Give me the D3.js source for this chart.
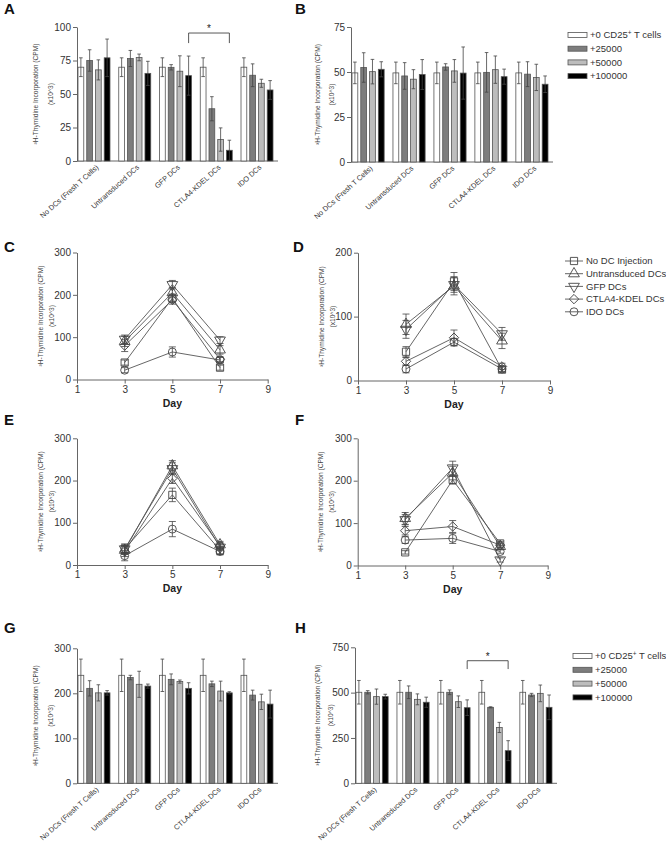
<!DOCTYPE html>
<html>
<head>
<meta charset="utf-8">
<script src="https://cdn.jsdelivr.net/npm/d3@7"></script>
<style>
  body { margin: 0; background: #fff; }
  text { font-family: "Liberation Sans", Arial, sans-serif; }
</style>
</head>
<body>
<div id="fig"></div>
<script>
// ---- data ----
var barCategories = ["No DCs (Fresh T Cells)", "Untransduced DCs", "GFP DCs", "CTLA4-KDEL DCs", "IDO DCs"];
var barSeries = ["+0 CD25⁺ T cells", "+25000", "+50000", "+100000"];
var barColors = ["#ffffff", "#7d7d7d", "#bdbdbd", "#000000"];

// mean / error per category, one value per series
var aMeans = [[70, 75, 68, 77], [70, 76.5, 77.3, 65.4], [70, 69.9, 67, 63.7], [70, 39, 16, 8], [70, 64, 58, 53]];
var aErrs  = [[7, 8, 7.5, 14], [7, 6, 2.5, 9], [7, 2, 11.5, 14.6], [7, 9, 8.7, 7.5], [7, 8.5, 3, 7]];
var bMeans = [[49.5, 52.5, 50.2, 51.5], [49.5, 47.8, 46, 48.6], [49.5, 52.8, 50.6, 49.4], [49.5, 49.8, 51.3, 47.4], [49.5, 48.8, 47, 43.2]];
var bErrs  = [[6, 8.2, 6.8, 4.2], [6, 7.4, 5.3, 8.3], [6, 1.8, 6.3, 14.5], [6, 11, 7.6, 4.2], [6, 6.9, 7.3, 4.6]];
var gMeans = [[240, 211, 201, 201], [240, 235, 220, 216], [240, 231, 226, 211], [240, 221, 205, 201], [240, 196, 181, 176]];
var gErrs  = [[36, 17, 18, 5], [36, 5, 29, 4.5], [36, 12, 3.5, 12.5], [36, 6, 22, 2.5], [36, 11, 17, 31]];
var hMeans = [[502, 502, 478, 478], [502, 502, 463, 447], [502, 502, 450, 417], [502, 419, 308, 180], [502, 487, 496, 419]];
var hErrs  = [[65, 9, 42, 13], [65, 35, 30, 28], [65, 13, 32, 43], [65, 3, 28, 55], [65, 9, 46, 68]];

var yTicksA = [0, 25, 50, 75, 100];
var yTicksB = [0, 25, 50, 75];
var yTicksG = [0, 100, 200, 300];
var yTicksH = [0, 250, 500, 750];

var days = [3, 5, 7];
var dayTicks = [1, 3, 5, 7, 9];
var lineSeries = ["No DC Injection", "Untransduced DCs", "GFP DCs", "CTLA4-KDEL DCs", "IDO DCs"];
var lineSymbols = ["square", "triangle", "triangleDown", "diamond", "circle"];

var cMeans = [[40, 192, 28], [90, 205, 70], [95, 224, 93], [80, 188, 48], [22, 65, 46]];
var cErrs  = [[6, 10, 6], [12, 12, 10], [10, 10, 8], [14, 10, 6], [6, 12, 6]];
var dMeans = [[45, 155, 17], [88, 148, 62], [80, 150, 73], [30, 67, 22], [18, 60, 18]];
var dErrs  = [[8, 14, 4], [16, 14, 12], [14, 12, 10], [6, 12, 5], [6, 6, 4]];
var eMeans = [[38, 166, 35], [35, 235, 48], [38, 228, 42], [32, 205, 45], [22, 85, 32]];
var eErrs  = [[12, 16, 10], [10, 12, 8], [10, 14, 8], [12, 12, 8], [12, 18, 8]];
var fMeans = [[31, 202, 52], [111, 218, 45], [108, 230, 13], [82, 92, 48], [60, 64, 33]];
var fErrs  = [[4, 10, 5], [14, 16, 6], [12, 16, 5], [10, 14, 5], [8, 12, 4]];

var yTicksLine300 = [0, 100, 200, 300];
var yTicksLine200 = [0, 100, 200];

var yLabel1 = "³H-Thymidine Incorporation (CPM)";
var yLabel2 = "(x10^3)";

// ---- style ----
var axisColor = "#666",
    textColor = "#333",
    barStroke = "#555",
    errColor = "#444",
    tickFont = 10,
    catFont = 7.3,
    labFont = 6.6;

var svg = d3.select("#fig")
    .append("svg")
    .attr("width", 666)
    .attr("height", 845);

function panelLetter(letter, x, y) {
    svg.append("text")
        .attr("x", x)
        .attr("y", y)
        .text(letter)
        .style("font-size", "15px")
        .style("font-weight", "bold")
        .style("fill", "#111");
}

function yAxisLabel(xAxis, off1, off2, yMid) {
    [[yLabel1, off1], [yLabel2, off2]].forEach(function (d) {
        svg.append("text")
            .attr("transform", "translate(" + (xAxis - d[1] + 2.5) + "," + yMid + ") rotate(-90)")
            .attr("text-anchor", "middle")
            .text(d[0])
            .style("font-size", labFont + "px")
            .style("fill", "#444");
    });
}

function drawYAxis(y, x, ticks) {
    var g = svg.append("g")
        .attr("transform", "translate(" + x + ",0)")
        .call(d3.axisLeft(y).tickValues(ticks).tickSize(4).tickPadding(2).tickSizeOuter(0));
    g.select(".domain").attr("stroke", axisColor);
    g.selectAll(".tick line").attr("stroke", axisColor);
    g.selectAll(".tick text")
        .style("font-size", tickFont + "px")
        .style("font-family", "'Liberation Sans', Arial, sans-serif")
        .style("fill", textColor);
    return g;
}

function drawBarPanel(cfg) {
    var y = d3.scaleLinear().domain([0, cfg.max]).range([cfg.y0, cfg.yTop]);
    var x0 = d3.scaleBand().domain(barCategories).range([cfg.x + 1, cfg.xEnd]).paddingInner(0.215).paddingOuter(0);
    var x1 = d3.scaleBand().domain(barSeries).range([0, x0.bandwidth()]).paddingInner(0.34);

    // x axis line
    svg.append("line")
        .attr("x1", cfg.x).attr("x2", cfg.xEnd + 5)
        .attr("y1", cfg.y0).attr("y2", cfg.y0)
        .style("stroke", axisColor);

    drawYAxis(y, cfg.x, cfg.ticks);

    var groups = svg.append("g").selectAll("g")
        .data(cfg.means)
        .enter().append("g")
        .attr("transform", function (d, i) { return "translate(" + x0(barCategories[i]) + ",0)"; });

    groups.each(function (row, i) {
        var g = d3.select(this);
        row.forEach(function (m, j) {
            var e = cfg.errs[i][j],
                bx = x1(barSeries[j]),
                bw = x1.bandwidth(),
                cx = bx + bw / 2;
            g.append("rect")
                .attr("x", bx)
                .attr("y", y(m))
                .attr("width", bw)
                .attr("height", y(0) - y(m))
                .style("fill", barColors[j])
                .style("stroke", barStroke)
                .style("stroke-width", "0.8px");
            // error bar
            g.append("line")
                .attr("x1", cx).attr("x2", cx)
                .attr("y1", y(Math.max(0, m - e))).attr("y2", y(m + e))
                .style("stroke", errColor).style("stroke-width", "0.8px");
            [m - e, m + e].forEach(function (v) {
                if (v < 0) return;
                g.append("line")
                    .attr("x1", cx - 1.8).attr("x2", cx + 1.8)
                    .attr("y1", y(v)).attr("y2", y(v))
                    .style("stroke", errColor).style("stroke-width", "0.8px");
            });
        });
    });

    // category labels
    barCategories.forEach(function (c) {
        var cx = x0(c) + x0.bandwidth() / 2 + 5;
        svg.append("text")
            .attr("transform", "translate(" + cx + "," + (cfg.y0 + 7) + ") rotate(-42)")
            .attr("text-anchor", "end")
            .text(c)
            .style("font-size", catFont + "px")
            .style("fill", textColor);
    });

    yAxisLabel(cfg.x, cfg.lab[0], cfg.lab[1], (cfg.y0 + cfg.yTop) / 2);

    // significance bracket between the +100000 bars of two groups
    if (cfg.bracket) {
        var bw = x1.bandwidth(),
            xa = x0(barCategories[cfg.bracket.from]) + x1(barSeries[3]) + bw / 2,
            xb = x0(barCategories[cfg.bracket.to]) + x1(barSeries[3]) + bw / 2,
            yt = y(cfg.bracket.top),
            yb = y(cfg.bracket.bottom);
        svg.append("path")
            .attr("d", "M" + xa + "," + yb + "V" + yt + "H" + xb + "V" + yb)
            .style("fill", "none")
            .style("stroke", errColor)
            .style("stroke-width", "0.9px");
        svg.append("text")
            .attr("x", (xa + xb) / 2)
            .attr("y", yt - 1)
            .attr("text-anchor", "middle")
            .text("*")
            .style("font-size", "10px")
            .style("fill", "#222");
    }
}

function barLegend(x, yFirst, gap) {
    barSeries.forEach(function (s, i) {
        var yy = yFirst + i * gap;
        svg.append("rect")
            .attr("x", x).attr("y", yy - 2.5)
            .attr("width", 19).attr("height", 5)
            .style("fill", barColors[i])
            .style("stroke", barStroke)
            .style("stroke-width", "0.8px");
        var t = svg.append("text")
            .attr("x", x + 22)
            .attr("y", yy + 3.3)
            .style("font-size", "9.5px")
            .style("fill", textColor);
        var parts = s.split("⁺");
        t.append("tspan").text(parts[0]);
        if (parts.length > 1) {
            t.append("tspan").attr("dy", -3.5).style("font-size", "6.5px").text("+");
            t.append("tspan").attr("dy", 3.5).text(parts[1]);
        }
    });
}

function symbolPath(kind) {
    var sym = {
        square: d3.symbol(d3.symbolSquare, 52),
        triangle: d3.symbol(d3.symbolTriangle, 50),
        triangleDown: d3.symbol(d3.symbolTriangle, 50),
        diamond: d3.symbol(d3.symbolSquare, 44),
        circle: d3.symbol(d3.symbolCircle, 50)
    }[kind];
    return sym();
}
function symbolRotate(kind) {
    return kind === "triangleDown" ? 180 : (kind === "diamond" ? 45 : 0);
}

function drawLinePanel(cfg) {
    var x = d3.scaleLinear().domain([1, 9]).range([cfg.x, cfg.xEnd]);
    var y = d3.scaleLinear().domain([0, cfg.max]).range([cfg.y0, cfg.yTop]);

    var gx = svg.append("g")
        .attr("transform", "translate(0," + cfg.y0 + ")")
        .call(d3.axisBottom(x).tickValues(dayTicks).tickSize(4).tickPadding(2).tickSizeOuter(0));
    gx.select(".domain").attr("stroke", axisColor);
    gx.selectAll(".tick line").attr("stroke", axisColor);
    gx.selectAll(".tick text")
        .style("font-size", tickFont + "px")
        .style("font-family", "'Liberation Sans', Arial, sans-serif")
        .style("fill", textColor);

    drawYAxis(y, cfg.x, cfg.ticks);

    svg.append("text")
        .attr("x", x(5))
        .attr("y", cfg.y0 + 27)
        .attr("text-anchor", "middle")
        .text("Day")
        .style("font-size", "10.5px")
        .style("font-weight", "bold")
        .style("fill", "#222");

    yAxisLabel(cfg.x, 37, 26, (cfg.y0 + cfg.yTop) / 2);

    var line = d3.line()
        .x(function (d, i) { return x(days[i]); })
        .y(function (d) { return y(d); });

    cfg.means.forEach(function (row, s) {
        var g = svg.append("g");
        g.append("path")
            .attr("d", line(row))
            .style("fill", "none")
            .style("stroke", "#555")
            .style("stroke-width", "0.9px");
        row.forEach(function (m, i) {
            var e = cfg.errs[s][i], cx = x(days[i]);
            g.append("line")
                .attr("x1", cx).attr("x2", cx)
                .attr("y1", y(Math.max(0, m - e))).attr("y2", y(m + e))
                .style("stroke", errColor).style("stroke-width", "0.8px");
            [m - e, m + e].forEach(function (v) {
                if (v < 0) return;
                g.append("line")
                    .attr("x1", cx - 3.5).attr("x2", cx + 3.5)
                    .attr("y1", y(v)).attr("y2", y(v))
                    .style("stroke", errColor).style("stroke-width", "0.8px");
            });
            g.append("path")
                .attr("d", symbolPath(lineSymbols[s]))
                .attr("transform", "translate(" + cx + "," + y(m) + ") rotate(" + symbolRotate(lineSymbols[s]) + ")")
                .style("fill", "none")
                .style("stroke", "#444")
                .style("stroke-width", "0.9px");
        });
    });
}

function lineLegend(x, yFirst, gap) {
    lineSeries.forEach(function (s, i) {
        var yy = yFirst + i * gap;
        svg.append("line")
            .attr("x1", x).attr("x2", x + 18)
            .attr("y1", yy).attr("y2", yy)
            .style("stroke", "#555").style("stroke-width", "0.9px");
        svg.append("path")
            .attr("d", symbolPath(lineSymbols[i]))
            .attr("transform", "translate(" + (x + 9) + "," + yy + ") rotate(" + symbolRotate(lineSymbols[i]) + ")")
            .style("fill", "none")
            .style("stroke", "#444")
            .style("stroke-width", "0.9px");
        svg.append("text")
            .attr("x", x + 21)
            .attr("y", yy + 3.3)
            .text(s)
            .style("font-size", "9.5px")
            .style("fill", textColor);
    });
}

// ---- panels ----
panelLetter("A", 4, 14);
drawBarPanel({ x: 77, xEnd: 273, y0: 161, yTop: 27, max: 100, ticks: yTicksA, means: aMeans, errs: aErrs,
    lab: [42, 27], bracket: { from: 2, to: 3, top: 95.5, bottom: 88 } });

panelLetter("B", 295, 14);
drawBarPanel({ x: 351, xEnd: 548, y0: 162, yTop: 27, max: 75, ticks: yTicksB, means: bMeans, errs: bErrs,
    lab: [34, 20] });
barLegend(568, 35, 13.7);

panelLetter("C", 4, 252);
drawLinePanel({ x: 77, xEnd: 267.7, y0: 379.5, yTop: 252.5, max: 300, ticks: yTicksLine300, means: cMeans, errs: cErrs });

panelLetter("D", 293, 252);
drawLinePanel({ x: 358, xEnd: 550, y0: 380.5, yTop: 252.7, max: 200, ticks: yTicksLine200, means: dMeans, errs: dErrs });
lineLegend(565, 261, 12.7);

panelLetter("E", 4, 425);
drawLinePanel({ x: 77, xEnd: 267.7, y0: 565, yTop: 438.3, max: 300, ticks: yTicksLine300, means: eMeans, errs: eErrs });

panelLetter("F", 295, 425);
drawLinePanel({ x: 357.7, xEnd: 547.7, y0: 565.5, yTop: 438.3, max: 300, ticks: yTicksLine300, means: fMeans, errs: fErrs });

panelLetter("G", 4, 633);
drawBarPanel({ x: 77, xEnd: 273, y0: 783.3, yTop: 648.3, max: 300, ticks: yTicksG, means: gMeans, errs: gErrs,
    lab: [42, 27] });

panelLetter("H", 295, 633);
drawBarPanel({ x: 355, xEnd: 552, y0: 783.3, yTop: 647.3, max: 750, ticks: yTicksH, means: hMeans, errs: hErrs,
    lab: [38, 25], bracket: { from: 2, to: 3, top: 676, bottom: 630 } });
barLegend(573, 656, 13.8);
</script>
</body>
</html>
